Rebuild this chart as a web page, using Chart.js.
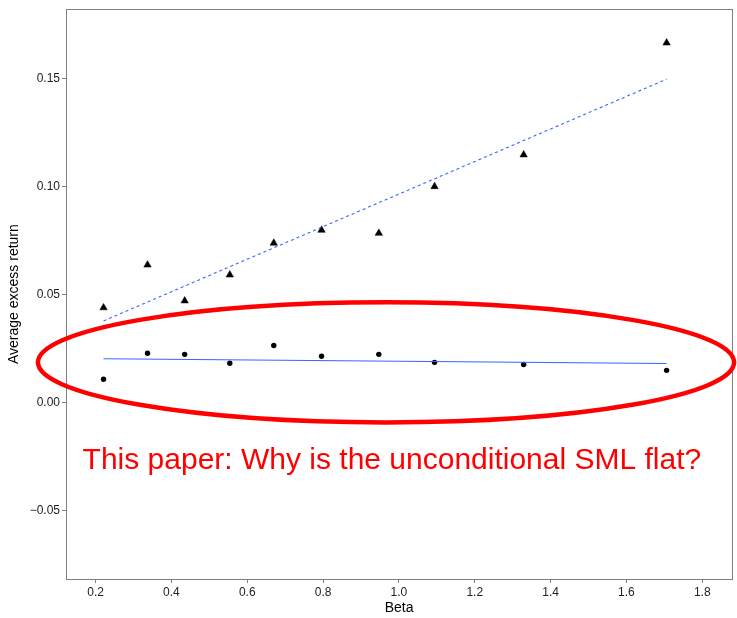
<!DOCTYPE html>
<html>
<head>
<meta charset="utf-8">
<script src="https://cdn.jsdelivr.net/npm/chart.js@4"></script>
<style>
  html, body { margin: 0; padding: 0; background: #ffffff; }
  #wrap { width: 737px; height: 618px; position: relative; }
</style>
</head>
<body>
<div id="wrap"><canvas id="chart" width="737" height="618"></canvas></div>
<script>
// Portfolio betas and average excess returns
const betas = [0.221, 0.337, 0.435, 0.554, 0.670, 0.796, 0.947, 1.094, 1.329, 1.706];
const announcementDayReturns = [0.0440, 0.0638, 0.0472, 0.0592, 0.0739, 0.0799, 0.0785, 0.1001, 0.1148, 0.1666];
const otherDayReturns = [0.0109, 0.0229, 0.0224, 0.0183, 0.0265, 0.0215, 0.0224, 0.0187, 0.0177, 0.0150];

// Fitted security market lines (endpoints at the smallest and largest beta)
const fitBetas = [0.221, 1.706];
const fitAnnouncement = [0.0379, 0.1498];
const fitOther = [0.0204, 0.0182];

// Axis ticks
const xTicks = [0.2, 0.4, 0.6, 0.8, 1.0, 1.2, 1.4, 1.6, 1.8];
const yTicks = [-0.05, 0.00, 0.05, 0.10, 0.15];

const note = 'This paper: Why is the unconditional SML flat?';

const toPoints = (xs, ys) => xs.map((x, i) => ({ x: x, y: ys[i] }));

const axisGrey = '#7f7f7f';
const blue = '#3366FF';

// Panel border plus the red highlight ellipse and caption
const overlay = {
  id: 'overlay',
  beforeDatasetsDraw(chart) {
    const a = chart.chartArea;
    const ctx = chart.ctx;
    ctx.save();
    ctx.strokeStyle = axisGrey;
    ctx.lineWidth = 1;
    ctx.strokeRect(Math.round(a.left) + 0.5, Math.round(a.top) + 0.5,
                   Math.round(a.right - a.left), Math.round(a.bottom - a.top));
    ctx.restore();
  },
  afterDraw(chart) {
    const xs = chart.scales.x, ys = chart.scales.y;
    const ctx = chart.ctx;
    // ellipse around the flat line (data coordinates)
    const cx = xs.getPixelForValue(0.966), cy = ys.getPixelForValue(0.0187);
    const rx = xs.getPixelForValue(0.966 + 0.918) - cx;
    const ry = cy - ys.getPixelForValue(0.0187 + 0.0278);
    ctx.save();
    ctx.strokeStyle = '#ff0000';
    ctx.lineWidth = 4.5;
    ctx.beginPath();
    ctx.ellipse(cx, cy, rx, ry, 0, 0, Math.PI * 2);
    ctx.stroke();
    // caption, sized to span from beta 0.166 to 1.8
    const tx = xs.getPixelForValue(0.1657), ty = ys.getPixelForValue(-0.0306);
    const tw = xs.getPixelForValue(1.8) - tx;
    let size = 30;
    ctx.font = size + 'px "Liberation Sans"';
    const w = ctx.measureText(note).width;
    size = size * (tw - 1) / w;
    ctx.font = size.toFixed(2) + 'px "Liberation Sans"';
    ctx.fillStyle = '#ff0000';
    ctx.textBaseline = 'alphabetic';
    ctx.textAlign = 'left';
    ctx.fillText(note, tx, ty);
    ctx.restore();
  }
};

new Chart(document.getElementById('chart'), {
  type: 'scatter',
  data: {
    datasets: [
      {
        label: 'Fit (announcement days)',
        data: toPoints(fitBetas, fitAnnouncement),
        showLine: true,
        borderColor: blue,
        borderWidth: 1.1,
        borderDash: [3, 3],
        pointRadius: 0,
        fill: false
      },
      {
        label: 'Fit (other days)',
        data: toPoints(fitBetas, fitOther),
        showLine: true,
        borderColor: blue,
        borderWidth: 1.1,
        pointRadius: 0,
        fill: false
      },
      {
        label: 'Announcement days',
        data: toPoints(betas, announcementDayReturns),
        pointStyle: 'triangle',
        pointRadius: 4.3,
        backgroundColor: '#000000',
        borderColor: '#000000',
        borderWidth: 0.5
      },
      {
        label: 'Other days',
        data: toPoints(betas, otherDayReturns),
        pointStyle: 'circle',
        pointRadius: 2.7,
        backgroundColor: '#000000',
        borderColor: '#000000',
        borderWidth: 0
      }
    ]
  },
  options: {
    responsive: false,
    animation: false,
    devicePixelRatio: 1,
    layout: { padding: { top: 6, right: 4, left: 0, bottom: 0 } },
    plugins: {
      legend: { display: false },
      tooltip: { enabled: false }
    },
    scales: {
      x: {
        type: 'linear',
        min: 0.122,
        max: 1.879,
        afterBuildTicks: (s) => { s.ticks = xTicks.map(v => ({ value: v })); },
        afterFit: (s) => { s.height = 39; },
        grid: { display: true, drawOnChartArea: false, drawTicks: true, tickLength: 4, color: axisGrey },
        border: { display: false },
        ticks: {
          color: '#222222',
          font: { family: 'Liberation Sans', size: 12 },
          padding: 2,
          maxRotation: 0,
          callback: (v) => v.toFixed(1)
        },
        title: {
          display: true,
          text: 'Beta',
          color: '#000000',
          font: { family: 'Liberation Sans', size: 14 },
          padding: { top: 0, bottom: 1 }
        }
      },
      y: {
        type: 'linear',
        min: -0.0816,
        max: 0.1822,
        afterBuildTicks: (s) => { s.ticks = yTicks.map(v => ({ value: v })); },
        afterFit: (s) => { s.width = 66; },
        grid: { display: true, drawOnChartArea: false, drawTicks: true, tickLength: 4, color: axisGrey },
        border: { display: false },
        ticks: {
          color: '#222222',
          font: { family: 'Liberation Sans', size: 12 },
          padding: 2,
          callback: (v) => (v < 0 ? '\u2212' + Math.abs(v).toFixed(2) : v.toFixed(2))
        },
        title: {
          display: true,
          text: 'Average excess return',
          color: '#000000',
          font: { family: 'Liberation Sans', size: 14 },
          padding: { top: 6, bottom: 0 }
        }
      }
    }
  },
  plugins: [overlay]
});
</script>
</body>
</html>
